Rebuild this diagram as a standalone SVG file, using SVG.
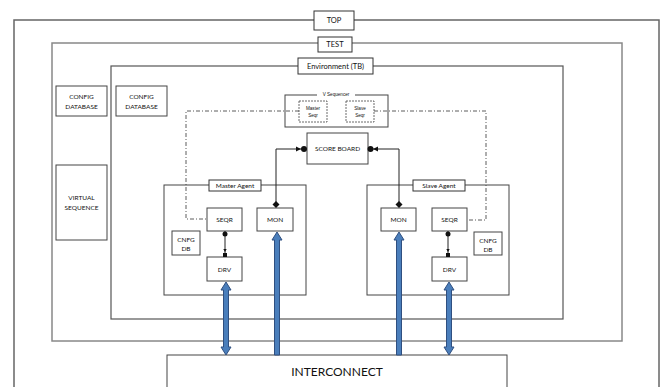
<svg xmlns="http://www.w3.org/2000/svg" width="662" height="387" viewBox="0 0 662 387">
<style>
text{font-family:Lato,"Liberation Sans",sans-serif;fill:#111;text-anchor:middle;dominant-baseline:central}
.frame{fill:none}
.lbl{fill:#fff;stroke:#333;stroke-width:1}
.box{fill:#fff;stroke:#444;stroke-width:1}
.dbox{fill:#fff;stroke:#444;stroke-width:0.8;stroke-dasharray:2,1}
.t7{font-size:7.5px}
.t6{font-size:6.5px}
.t4{font-size:4.6px;font-family:"Liberation Sans",sans-serif}
.conn{fill:none;stroke:#222;stroke-width:1}
.dd{fill:none;stroke:#333;stroke-width:0.8;stroke-dasharray:4,2,1,2}
.blue{fill:#4a7ebb;stroke:#2f4f80;stroke-width:1}
.port{fill:#111}
</style>
<rect width="662" height="387" fill="#fff"/>

<g id="top">
<rect class="frame" x="14" y="20" width="645" height="380" stroke="#666" stroke-width="1.5"/>
<rect class="lbl" x="314" y="11" width="40" height="19"/>
<text class="t7" x="334" y="20.5">TOP</text>
</g>
<g id="test">
<rect class="frame" x="52" y="43" width="570" height="298" stroke="#888" stroke-width="1.5"/>
<rect class="lbl" x="318" y="37" width="34" height="15"/>
<text class="t7" x="335" y="44.5">TEST</text>
</g>
<g id="env">
<rect class="frame" x="111" y="66" width="452" height="253" stroke="#555" stroke-width="1.2"/>
<rect class="lbl" x="298" y="58" width="75" height="16"/>
<text class="t7" x="335.5" y="66">Environment (TB)</text>
</g>

<g id="config-db-test">
<rect class="box" x="56" y="86" width="51" height="30"/>
<text class="t6" x="81.5" y="96.5">CONFIG</text>
<text class="t6" x="81.5" y="106">DATABASE</text>
</g>
<g id="config-db-env">
<rect class="box" x="116" y="86" width="51" height="30"/>
<text class="t6" x="141.5" y="96.5">CONFIG</text>
<text class="t6" x="141.5" y="106">DATABASE</text>
</g>
<g id="virtual-sequence">
<rect class="box" x="56" y="165" width="51" height="75"/>
<text class="t6" x="81.5" y="197.5">VIRTUAL</text>
<text class="t6" x="81.5" y="207.5">SEQUENCE</text>
</g>

<g id="v-sequencer">
<rect class="box" x="285" y="95" width="103" height="32"/>
<rect x="317" y="91" width="38" height="6" fill="#fff"/>
<text class="t4" x="336" y="94">V Sequencer</text>
</g>
<g id="master-seqr">
<rect class="dbox" x="299" y="101" width="28" height="21"/>
<text class="t4" x="313" y="108">Master</text>
<text class="t4" x="313" y="115.5">Seqr</text>
</g>
<g id="slave-seqr">
<rect class="dbox" x="346" y="101" width="28" height="21"/>
<text class="t4" x="360" y="108">Slave</text>
<text class="t4" x="360" y="115.5">Seqr</text>
</g>

<g id="scoreboard">
<rect class="box" x="307" y="133" width="61" height="31"/>
<text class="t6" x="337.5" y="148.5">SCORE BOARD</text>
</g>

<g id="master-agent">
<rect class="frame" x="164" y="185" width="142" height="110" stroke="#444" stroke-width="1"/>
<rect class="lbl" x="209" y="180" width="52" height="11"/>
<text class="t6" x="235" y="185.5">Master Agent</text>
</g>
<g id="master-seqr-blk">
<rect class="box" x="207" y="208" width="35" height="23"/>
<text class="t6" x="224.5" y="219.5">SEQR</text>
</g>
<g id="master-mon">
<rect class="box" x="257" y="208" width="36" height="23"/>
<text class="t6" x="275" y="219.5">MON</text>
</g>
<g id="master-cnfg">
<rect class="box" x="172" y="231" width="28" height="24"/>
<text class="t6" x="186" y="239.5">CNFG</text>
<text class="t6" x="186" y="248.5">DB</text>
</g>
<g id="master-drv">
<rect class="box" x="207" y="257" width="35" height="24"/>
<text class="t6" x="224.5" y="269">DRV</text>
</g>

<g id="slave-agent">
<rect class="frame" x="367" y="185" width="142" height="110" stroke="#444" stroke-width="1"/>
<rect class="lbl" x="413" y="180" width="52" height="11"/>
<text class="t6" x="439" y="185.5">Slave Agent</text>
</g>
<g id="slave-mon">
<rect class="box" x="381" y="208" width="35" height="23"/>
<text class="t6" x="398.5" y="219.5">MON</text>
</g>
<g id="slave-seqr-blk">
<rect class="box" x="432" y="208" width="35" height="23"/>
<text class="t6" x="449.5" y="219.5">SEQR</text>
</g>
<g id="slave-cnfg">
<rect class="box" x="474" y="232" width="28" height="23"/>
<text class="t6" x="488" y="240">CNFG</text>
<text class="t6" x="488" y="249">DB</text>
</g>
<g id="slave-drv">
<rect class="box" x="432" y="257" width="35" height="24"/>
<text class="t6" x="449.5" y="269">DRV</text>
</g>

<g id="interconnect">
<rect class="box" x="167" y="355" width="340" height="40"/>
<text x="337" y="371.5" font-size="12">INTERCONNECT</text>
</g>

<g id="connectors">
<path class="dd" d="M299,111 H186 V219 H207"/>
<path class="dd" d="M374,111 H486 V220 H467"/>
<path class="conn" d="M276,205 V149 H303"/>
<path class="conn" d="M399,205 V149 H371"/>
<path class="port" d="M296,146.5 L301,149 L296,151.5 Z"/>
<circle class="port" cx="304" cy="149" r="3"/>
<path class="port" d="M378,146.5 L373,149 L378,151.5 Z"/>
<circle class="port" cx="370.5" cy="149" r="3"/>
<path class="port" d="M276,201 L279.5,204.5 L276,208 L272.5,204.5 Z"/>
<path class="port" d="M399,201 L402.5,204.5 L399,208 L395.5,204.5 Z"/>
<path class="conn" d="M225,231 V254"/>
<circle class="port" cx="225" cy="234" r="2.5"/>
<path class="port" d="M223.3,249 L226.7,249 L225,252 Z"/>
<rect class="port" x="223" y="253" width="4" height="4"/>
<path class="conn" d="M448,231 V254"/>
<circle class="port" cx="448" cy="234" r="2.5"/>
<path class="port" d="M446.3,249 L449.7,249 L448,252 Z"/>
<rect class="port" x="446" y="253" width="4" height="4"/>
<path class="blue" d="M226,282 L231,290 L228.5,290 L228.5,347 L231,347 L226,355 L221,347 L223.5,347 L223.5,290 L221,290 Z"/>
<path class="blue" d="M449,282 L454,290 L451.5,290 L451.5,347 L454,347 L449,355 L444,347 L446.5,347 L446.5,290 L444,290 Z"/>
<path class="blue" d="M277,232 L282,240 L279.5,240 L279.5,355 L274.5,355 L274.5,240 L272,240 Z"/>
<path class="blue" d="M399,232 L404,240 L401.5,240 L401.5,355 L396.5,355 L396.5,240 L394,240 Z"/>
</g>
</svg>
